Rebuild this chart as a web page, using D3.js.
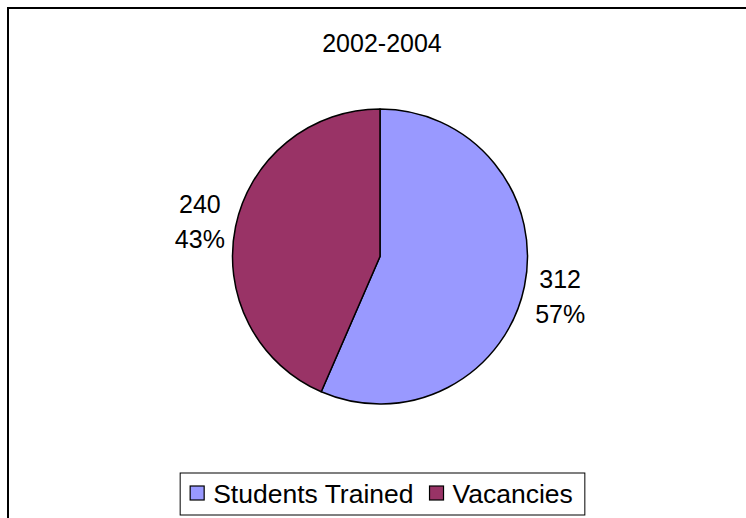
<!DOCTYPE html>
<html>
<head>
<meta charset="utf-8">
<script src="https://cdn.jsdelivr.net/npm/d3@7"></script>
<style>
  body { margin: 0; background: #fff; }
  svg { display: block; }
  text { font-family: "Liberation Sans", Arial, sans-serif; fill: #000; }
</style>
</head>
<body>
<svg id="chart" width="746" height="518"></svg>
<script>
const title = "2002-2004";
const categories = ["Students Trained", "Vacancies"];
const values = [312, 240];
const colors = ["#9999FF", "#993366"];

const width = 746, height = 518;
const cx = 380, cy = 256.5, radius = 147.5;
const fontSize = 25;

const svg = d3.select("#chart");

// outer frame (right and bottom run off the page)
svg.append("rect")
  .attr("x", 8).attr("y", 8)
  .attr("width", width + 20).attr("height", height + 20)
  .attr("fill", "#fff")
  .attr("stroke", "#000")
  .attr("stroke-width", 2);

svg.append("text")
  .attr("x", 382).attr("y", 52)
  .attr("text-anchor", "middle")
  .style("font-size", fontSize + "px")
  .text(title);

const total = d3.sum(values);
const pie = d3.pie().value(d => d).sort(null);
const arcs = pie(values);

const arc = d3.arc().innerRadius(0).outerRadius(radius);
const labelArc = d3.arc().innerRadius(184).outerRadius(184);

const g = svg.append("g").attr("transform", `translate(${cx},${cy})`);

g.selectAll("path")
  .data(arcs)
  .enter().append("path")
  .attr("d", arc)
  .attr("fill", (d, i) => colors[i])
  .attr("stroke", "#000")
  .attr("stroke-width", 1.5)
  .attr("stroke-linejoin", "round");

const labels = g.selectAll("g.label")
  .data(arcs)
  .enter().append("g")
  .attr("class", "label")
  .attr("transform", d => `translate(${labelArc.centroid(d)})`);

labels.append("text")
  .attr("text-anchor", "middle")
  .attr("y", -6)
  .style("font-size", fontSize + "px")
  .text(d => d.data);

labels.append("text")
  .attr("text-anchor", "middle")
  .attr("y", 29)
  .style("font-size", fontSize + "px")
  .text(d => Math.round(d.data / total * 100) + "%");

// legend
const legendSize = 26.5;
const legend = svg.append("g");
const box = legend.append("rect")
  .attr("fill", "#fff")
  .attr("stroke", "#000")
  .attr("stroke-width", 1);

let x = 0;
const swatch = 14;
categories.forEach((c, i) => {
  legend.append("rect")
    .attr("x", x).attr("y", -swatch / 2 - 1)
    .attr("width", swatch).attr("height", swatch)
    .attr("fill", colors[i])
    .attr("stroke", "#000")
    .attr("stroke-width", 1.2);
  const t = legend.append("text")
    .attr("x", x + swatch + 9)
    .attr("y", 9)
    .style("font-size", legendSize + "px")
    .text(c);
  x += swatch + 9 + t.node().getComputedTextLength() + 16;
});
const legW = x - 16;
const padL = 10, padR = 12;
const boxX = 382.5 - (legW + padL + padR) / 2;
legend.attr("transform", `translate(${boxX + padL},${494})`);
box.attr("x", -padL).attr("y", -21)
  .attr("width", legW + padL + padR).attr("height", 42);
</script>
</body>
</html>
